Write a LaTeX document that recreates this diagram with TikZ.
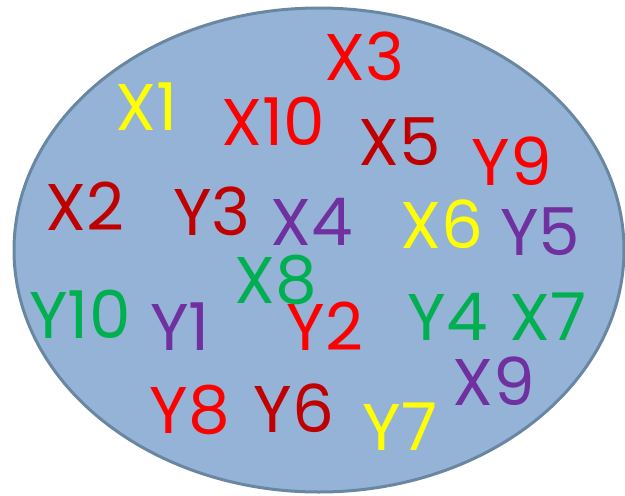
\documentclass[tikz,border=0pt]{standalone}
\usepackage{fontspec}
\setmainfont{Poppins}
\usetikzlibrary{shapes.geometric}
\definecolor{fillblue}{HTML}{95B3D7}
\definecolor{edgeblue}{HTML}{6A87A2}
\definecolor{cred}{HTML}{FF0000}
\definecolor{cdred}{HTML}{C00000}
\definecolor{cyel}{HTML}{FFFF00}
\definecolor{cpur}{HTML}{7030A0}
\definecolor{cgrn}{HTML}{00B050}
\begin{document}
\begin{tikzpicture}[x=1pt,y=-1pt,
  lbl/.style={inner sep=0pt,anchor=base,font=\fontsize{66}{66}\selectfont}]
\useasboundingbox (0,0) rectangle (625,496);
\node[draw=edgeblue,fill=fillblue,line width=3pt,ellipse,minimum width=610pt,minimum height=484pt,inner sep=0pt] (set) at (319,250) {};
\node[lbl,text=cred] (x3) at (364,80) {X3};
\node[lbl,text=cyel] (x1) at (147,130) {X1};
\node[lbl,text=cred] (x10) at (273,145) {X10};
\node[lbl,text=cdred] (x5) at (400,165) {X5};
\node[lbl,text=cred] (y9) at (512,185) {Y9};
\node[lbl,text=cdred] (x2) at (85,230) {X2};
\node[lbl,text=cdred] (y3) at (212,235) {Y3};
\node[lbl,text=cpur] (x4) at (312,245) {X4};
\node[lbl,text=cyel] (x6) at (442,248) {X6};
\node[lbl,text=cpur] (y5) at (540,255) {Y5};
\node[lbl,text=cgrn] (x8) at (276,303) {X8};
\node[lbl,text=cgrn] (y10) at (80,338) {Y10};
\node[lbl,text=cpur] (y1) at (180,350) {Y1};
\node[lbl,text=cred] (y2) at (325,350) {Y2};
\node[lbl,text=cgrn] (y4) at (448,340) {Y4};
\node[lbl,text=cgrn] (x7) at (548,340) {X7};
\node[lbl,text=cpur] (x9) at (494,405) {X9};
\node[lbl,text=cred] (y8) at (190,433) {Y8};
\node[lbl,text=cdred] (y6) at (294,432) {Y6};
\node[lbl,text=cyel] (y7) at (400,450) {Y7};
\end{tikzpicture}
\end{document}
